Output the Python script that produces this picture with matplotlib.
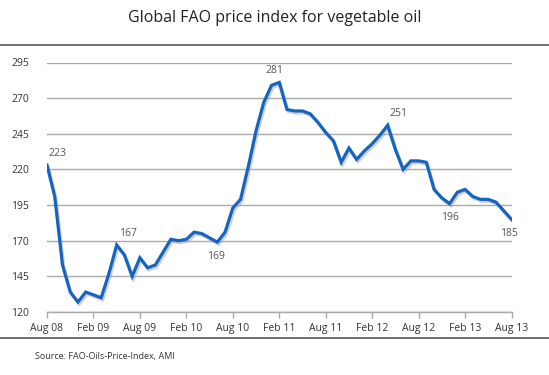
import matplotlib
matplotlib.use("Agg")
import matplotlib.pyplot as plt
import matplotlib.patheffects as pe
from matplotlib.lines import Line2D

# monthly index, Aug 08 .. Aug 13
price = [223, 201, 153, 134, 127, 134, 132, 130, 147, 167,
         160, 145, 158, 151, 153, 162, 171, 170, 171, 176,
         175, 172, 169, 176, 193, 199, 222, 247, 267, 279,
         281, 262, 261, 261, 259, 253, 246, 240, 225, 235,
         227, 233, 238, 244, 251, 234, 220, 226, 226, 225,
         206, 200, 196, 204, 206, 201, 199, 199, 197, 191,
         185]
tick_labels = ["Aug 08", "Feb 09", "Aug 09", "Feb 10", "Aug 10", "Feb 11",
               "Aug 11", "Feb 12", "Aug 12", "Feb 13", "Aug 13"]
y_ticks = [120, 145, 170, 195, 220, 245, 270, 295]
# (month index, label, dx px, dy px, ha)
notes = [(0, "223", 1, 6, "left"), (9, "167", 2, 6, "left"),
         (22, "169", -1, -14, "center"), (30, "281", -5, 6, "center"),
         (44, "251", 2, 6, "left"), (52, "196", 0, -14, "center"),
         (60, "185", -3, -14, "center")]

plt.rcParams["font.family"] = ["Open Sans", "DejaVu Sans"]

fig = plt.figure(figsize=(5.49, 3.75), dpi=100)
ax = fig.add_axes([47 / 549, 63 / 375, 464.5 / 549, 249.5 / 375])

x = list(range(len(price)))
ax.plot(x, price, color="#1565c0", linewidth=2.3, solid_joinstyle="miter",
        path_effects=[pe.SimpleLineShadow(offset=(1, -1.5), shadow_color="#999999", alpha=0.45),
                      pe.Normal()], zorder=3)

ax.set_xlim(0, 60)
ax.set_ylim(120, 295)
ax.set_yticks(y_ticks)
ax.set_xticks(range(0, 61, 6))
ax.set_xticklabels(tick_labels)
ax.tick_params(axis="y", length=0, pad=13, labelsize=7.5, labelcolor="#333333")
ax.tick_params(axis="x", length=4, width=1, color="#aaaaaa", pad=4,
               labelsize=7.5, labelcolor="#333333")
ax.grid(axis="y", color="#aaaaaa", linewidth=1)
ax.set_axisbelow(True)
for s in ["top", "right", "left"]:
    ax.spines[s].set_visible(False)
ax.spines["bottom"].set_color("#aaaaaa")
ax.spines["bottom"].set_linewidth(1)

for i, lab, dx, dy, ha in notes:
    ax.annotate(lab, (i, price[i]), xytext=(dx * 0.72, dy * 0.72),
                textcoords="offset points", ha=ha, va="bottom" if dy > 0 else "center",
                fontsize=7.5, color="#555555")

fig.text(0.5, 1 - 18 / 375, "Global FAO price index for vegetable oil",
         ha="center", va="center", fontsize=11.5, color="#222222")
fig.add_artist(Line2D([0, 1], [1 - 45 / 375] * 2, color="#555555", linewidth=1.2))
fig.add_artist(Line2D([0, 1], [1 - 338 / 375] * 2, color="#555555", linewidth=1.2))
fig.text(35 / 549, 1 - 356 / 375, "Source: FAO-Oils-Price-Index, AMI",
         ha="left", va="center", fontsize=6.5, color="#333333")

fig.savefig("out.png", dpi=100)
